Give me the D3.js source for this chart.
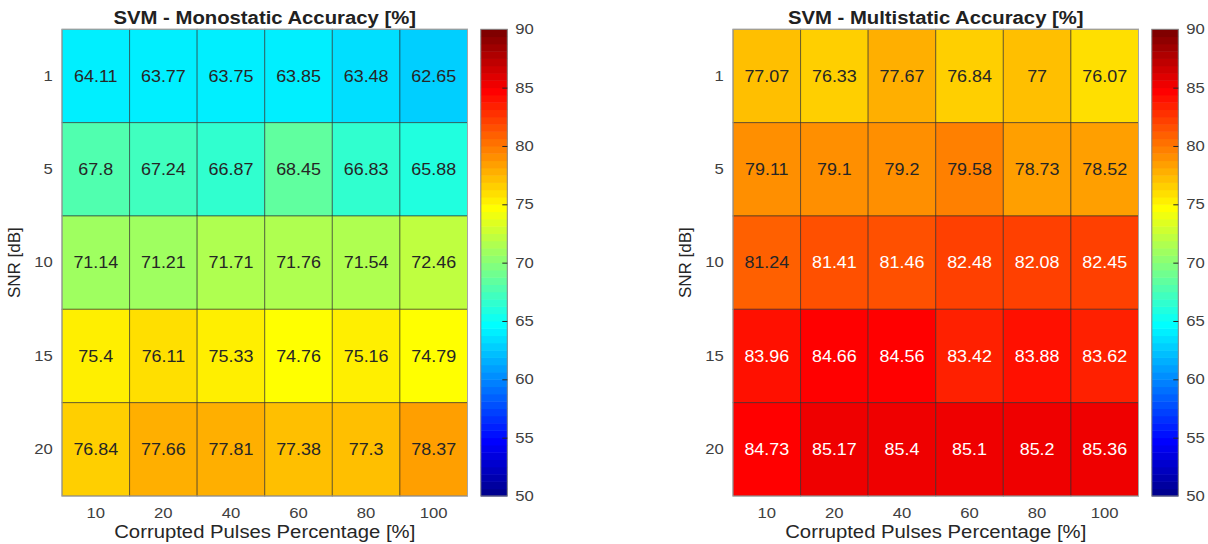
<!DOCTYPE html>
<html><head><meta charset="utf-8">
<script src="https://cdn.jsdelivr.net/npm/d3@7"></script>
<style>
body{margin:0;background:#fff}
text{font-family:"Liberation Sans",Arial,Helvetica,sans-serif}
</style>
</head><body>
<svg id="chart" width="1208" height="544"></svg>
<script>
// ---------------- data ----------------
const snrLevels = ["1", "5", "10", "15", "20"];
const corruptedPct = ["10", "20", "40", "60", "80", "100"];
const monostatic = [
  [64.11, 63.77, 63.75, 63.85, 63.48, 62.65],
  [67.8, 67.24, 66.87, 68.45, 66.83, 65.88],
  [71.14, 71.21, 71.71, 71.76, 71.54, 72.46],
  [75.4, 76.11, 75.33, 74.76, 75.16, 74.79],
  [76.84, 77.66, 77.81, 77.38, 77.3, 78.37]
];
const multistatic = [
  [77.07, 76.33, 77.67, 76.84, 77, 76.07],
  [79.11, 79.1, 79.2, 79.58, 78.73, 78.52],
  [81.24, 81.41, 81.46, 82.48, 82.08, 82.45],
  [83.96, 84.66, 84.56, 83.42, 83.88, 83.62],
  [84.73, 85.17, 85.4, 85.1, 85.2, 85.36]
];
const colorTicks = [50, 55, 60, 65, 70, 75, 80, 85, 90];
const colorLimits = [50, 90];
const panelTitles = ["SVM - Monostatic Accuracy [%]", "SVM - Multistatic Accuracy [%]"];
const xAxisLabel = "Corrupted Pulses Percentage [%]";
const yAxisLabel = "SNR [dB]";

// ---------------- MATLAB jet(64) ----------------
function jetMap(m) {
  const n = Math.ceil(m / 4);
  const u = [];
  for (let i = 1; i <= n; i++) u.push(i / n);
  for (let i = 1; i < n; i++) u.push(1);
  for (let i = n; i >= 1; i--) u.push(i / n);
  const off = Math.ceil(n / 2) - (m % 4 === 1 ? 1 : 0);
  const J = d3.range(m).map(() => [0, 0, 0]);
  u.forEach((val, k) => {
    const g = off + k + 1, r = g + n, b = g - n;
    if (r <= m) J[r - 1][0] = val;
    if (g <= m) J[g - 1][1] = val;
    if (b >= 1) J[b - 1][2] = val;
  });
  return J.map(c => d3.rgb(c[0] * 255, c[1] * 255, c[2] * 255));
}
const jet = jetMap(64);
const color = d3.scaleQuantize().domain(colorLimits).range(jet);
const lum = c => (0.299 * c.r + 0.587 * c.g + 0.114 * c.b) / 255;

// ---------------- layout ----------------
const svg = d3.select("#chart");
const plotTop = 29.3, plotBottom = 496;
const hmW = 405.5;
const panels = [
  { x0: 62, data: monostatic, title: panelTitles[0], ylabX: 14 },
  { x0: 733, data: multistatic, title: panelTitles[1], ylabX: 685 }
];
const sx = 1.16; // horizontal glyph stretch seen in reference

function stretch(sel, k) {
  sel.each(function () {
    const t = d3.select(this);
    const x = +t.attr("x") || 0, y = +t.attr("y") || 0;
    t.attr("transform", `translate(${x},${y}) scale(${k},1)`).attr("x", 0).attr("y", 0);
  });
}

panels.forEach(p => {
  const g = svg.append("g");
  const x = d3.scaleBand().domain(corruptedPct).range([p.x0, p.x0 + hmW]);
  const y = d3.scaleBand().domain(snrLevels).range([plotTop, plotBottom]);

  const cells = [];
  p.data.forEach((row, i) => row.forEach((v, j) => cells.push({ r: snrLevels[i], c: corruptedPct[j], v })));

  g.selectAll("rect.cell").data(cells).join("rect")
    .attr("class", "cell")
    .attr("x", d => x(d.c)).attr("y", d => y(d.r))
    .attr("width", x.bandwidth()).attr("height", y.bandwidth())
    .attr("fill", d => color(d.v))
    .attr("stroke", "#262626").attr("stroke-opacity", 0.55).attr("stroke-width", 1);

  g.append("rect")
    .attr("x", p.x0).attr("y", plotTop).attr("width", hmW).attr("height", plotBottom - plotTop)
    .attr("fill", "none").attr("stroke", "#a6a6a6").attr("stroke-width", 1);

  const txt = g.selectAll("text.val").data(cells).join("text")
    .attr("class", "val")
    .attr("x", d => x(d.c) + x.bandwidth() / 2)
    .attr("y", d => y(d.r) + y.bandwidth() / 2)
    .attr("dy", "0.36em")
    .attr("text-anchor", "middle")
    .attr("font-size", 16)
    .attr("fill", d => lum(color(d.v)) < 0.5 ? "#ffffff" : "#262626")
    .text(d => String(d.v));
  stretch(txt, 1.12);

  // axes
  const xa = g.append("g").attr("transform", `translate(0,${plotBottom})`)
    .call(d3.axisBottom(x).tickSize(0).tickPadding(9));
  const ya = g.append("g").attr("transform", `translate(${p.x0},0)`)
    .call(d3.axisLeft(y).tickSize(0).tickPadding(8));
  [xa, ya].forEach(a => {
    a.select(".domain").remove();
    a.selectAll("text").attr("font-size", 14.5).attr("fill", "#404040")
      .attr("transform", `scale(${1.15},1)`);
  });
  xa.selectAll("text").attr("dy", "0.9em");

  // title
  const tt = g.append("text")
    .attr("x", p.x0 + hmW / 2).attr("y", 24)
    .attr("text-anchor", "middle").attr("font-size", 17.5).attr("font-weight", "bold")
    .attr("fill", "#212121").text(p.title);
  stretch(tt, sx);

  // x label
  const xl = g.append("text")
    .attr("x", p.x0 + hmW / 2).attr("y", 538)
    .attr("text-anchor", "middle").attr("font-size", 17.5)
    .attr("fill", "#262626").text(xAxisLabel);
  stretch(xl, sx);

  // y label
  g.append("text")
    .attr("transform", `translate(${p.ylabX + 6},${(plotTop + plotBottom) / 2}) rotate(-90)`)
    .attr("text-anchor", "middle").attr("font-size", 17)
    .attr("fill", "#262626").text(yAxisLabel);

  // colorbar
  const cbX = p.x0 + hmW + 13.3, cbW = 26.5;
  const cy = d3.scaleLinear().domain(colorLimits).range([plotBottom, plotTop]);
  const cb = g.append("g");
  cb.selectAll("rect").data(jet).join("rect")
    .attr("x", cbX)
    .attr("y", c => cy(color.invertExtent(c)[1]))
    .attr("width", cbW)
    .attr("height", c => cy(color.invertExtent(c)[0]) - cy(color.invertExtent(c)[1]) + 0.5)
    .attr("fill", c => c);
  cb.append("rect").attr("x", cbX).attr("y", plotTop).attr("width", cbW).attr("height", plotBottom - plotTop)
    .attr("fill", "none").attr("stroke", "#808080").attr("stroke-width", 1);
  const ca = cb.append("g").attr("transform", `translate(${cbX + cbW},0)`)
    .call(d3.axisRight(cy).tickValues(colorTicks).tickSize(0).tickPadding(7));
  ca.select(".domain").remove();
  ca.selectAll("text").attr("font-size", 14.5).attr("fill", "#404040")
    .attr("transform", `scale(1.15,1)`);
  ca.selectAll(".tick").filter(d => d > colorLimits[0] && d < colorLimits[1])
    .append("line").attr("x1", -5).attr("x2", 0).attr("stroke", "#262626").attr("stroke-width", 1);
});
</script>
</body></html>
